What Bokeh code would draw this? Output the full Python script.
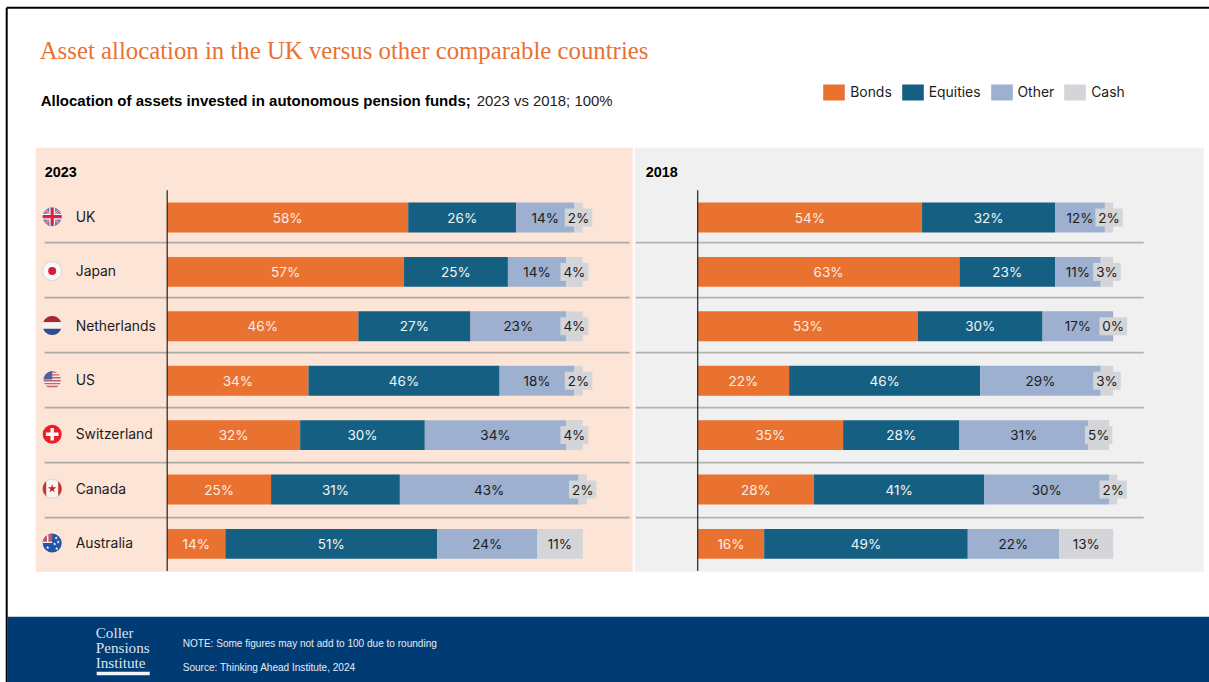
import numpy as np
from bokeh.core.properties import value
from bokeh.embed import file_html
from bokeh.models import ColumnDataSource, Legend, LegendItem, Range1d
from bokeh.plotting import figure
from bokeh.resources import INLINE

countries = ["UK", "Japan", "Netherlands", "US", "Switzerland", "Canada", "Australia"]

bonds_2023 = [58, 57, 46, 34, 32, 25, 14]
equities_2023 = [26, 25, 27, 46, 30, 31, 51]
other_2023 = [14, 14, 23, 18, 34, 43, 24]
cash_2023 = [2, 4, 4, 2, 4, 2, 11]

bonds_2018 = [54, 63, 53, 22, 35, 28, 16]
equities_2018 = [32, 23, 30, 46, 28, 41, 49]
other_2018 = [12, 11, 17, 29, 31, 30, 22]
cash_2018 = [2, 3, 0, 3, 5, 2, 13]

asset_classes = ["Bonds", "Equities", "Other", "Cash"]
asset_colors = ["#EA7231", "#156082", "#9DB0CF", "#D4D5D8"]
label_colors = ["#FBEDE4", "#F2F6F8", "#1C1C1C", "#1C1C1C"]

TITLE = "Asset allocation in the UK versus other comparable countries"
SUB_BOLD = "Allocation of assets invested in autonomous pension funds;"
SUB_PLAIN = "2023 vs 2018; 100%"
NOTE = "NOTE: Some figures may not add to 100 due to rounding"
SOURCE = "Source: Thinking Ahead Institute, 2024"

W, H = 1209, 682
OFF = 0.8  # the frame sits a fraction of a pixel in from the page corner
ROW0, ROW_STEP = 217.8, 54.4
RULE0, RULE_STEP = 243, 55
PX_PER_PCT = 4.155
SANS = "Inter"

p = figure(width=W, height=H, x_range=Range1d(OFF, W + OFF), y_range=Range1d(H + OFF, OFF),
           x_axis_location=None, y_axis_location=None, toolbar_location=None,
           output_backend="svg", min_border=0, outline_line_color=None,
           background_fill_color="white", border_fill_color="white")
p.grid.visible = False


def put_text(x, y, s, size, color="#1C1C1C", font=SANS, style="normal", align="left"):
    p.text([x], [y], text=[s], text_font=value(font), text_font_size=value(f"{size}px"),
           text_color=color, text_font_style=style, text_align=align,
           text_baseline="middle")


# slide frame and footer band
p.quad(left=8, right=W + 2, top=617, bottom=H + 2, fill_color="#003B73", line_color=None)
p.segment(x0=[7, 7], y0=[8, 8], x1=[W + 2, 7], y1=[8, H + 2], line_color="black", line_width=2)

# panel backgrounds
p.quad(left=[36, 635], right=[633, 1204], top=[148, 148], bottom=[572, 572],
       fill_color=["#FCE4D6", "#F0F0F0"], line_color=None)

# row separators
rule_y = [RULE0 + RULE_STEP * i for i in range(6)]
p.segment(x0=[45] * 6, x1=[630] * 6, y0=rule_y, y1=rule_y, line_color="#AFAAA6", line_width=1.8)
p.segment(x0=[636] * 6, x1=[1144] * 6, y0=rule_y, y1=rule_y, line_color="#B2B2B2", line_width=1.8)

# row scale shared by both panels, and one percentage scale per panel
p.extra_y_ranges["rows"] = Range1d((H + OFF - ROW0) / ROW_STEP, (OFF - ROW0) / ROW_STEP)
p.extra_x_ranges["p2023"] = Range1d((OFF - 167.5) / PX_PER_PCT, (W + OFF - 167.5) / PX_PER_PCT)
p.extra_x_ranges["p2018"] = Range1d((OFF - 698) / PX_PER_PCT, (W + OFF - 698) / PX_PER_PCT)


def draw_panel(range_name, bonds, equities, other, cash):
    rows = list(range(len(countries)))
    src = ColumnDataSource(dict(row=rows, Bonds=bonds, Equities=equities, Other=other, Cash=cash))
    bars = p.hbar_stack(asset_classes, y="row", height=0.55, color=asset_colors, line_color=None,
                        source=src, x_range_name=range_name, y_range_name="rows")
    lefts = np.zeros(len(rows))
    for k, series in enumerate((bonds, equities, other, cash)):
        vals = np.array(series, dtype=float)
        extra = {}
        if asset_classes[k] == "Cash":
            extra = dict(background_fill_color=asset_colors[3], padding=(3, 1))
        p.text(x=lefts + vals / 2, y=rows, text=[f"{v}%" for v in series],
               text_font=value(SANS), text_font_size=value("13.5px"), text_color=label_colors[k],
               text_align="center", text_baseline="middle",
               x_range_name=range_name, y_range_name="rows", **extra)
        lefts += vals
    p.segment(x0=[0], x1=[0], y0=[-0.5], y1=[6.5], line_color="#222222", line_width=1.2,
              x_range_name=range_name, y_range_name="rows")
    return bars


bars_2023 = draw_panel("p2023", bonds_2023, equities_2023, other_2023, cash_2023)
draw_panel("p2018", bonds_2018, equities_2018, other_2018, cash_2018)

# country names
p.text(x=[76] * 7, y=[i - 0.012 for i in range(7)], text=countries, text_font=value(SANS),
       text_font_size=value("13.9px"), text_color="#1C1C1C", text_baseline="middle",
       y_range_name="rows")


# round flag pictograms, built from pieces clipped to a disc
def disc_band(cx, cy, r, x0, x1, y0, y1, color):
    ys = np.linspace(max(y0, -r), min(y1, r), 24)
    half = np.sqrt(np.maximum(r * r - ys * ys, 0))
    left = np.clip(-half, x0, x1)
    right = np.clip(half, x0, x1)
    p.patch(np.r_[left, right[::-1]] + cx, np.r_[ys, ys[::-1]] + cy,
            fill_color=color, line_color=None)


def disc(cx, cy, r, color, line=None):
    p.circle([cx], [cy], radius=r, fill_color=color, line_color=line, line_width=1)


def union_jack(cx, cy, r):
    k = 0.68 * r
    p.segment([cx - k, cx - k], [cy - k, cy + k], [cx + k, cx + k], [cy + k, cy - k],
              line_color="#F0C8D0", line_width=2)
    p.segment([cx - k, cx - k], [cy - k, cy + k], [cx + k, cx + k], [cy + k, cy - k],
              line_color="#D8344A", line_width=1)
    bar = r * 0.3
    disc_band(cx, cy, r, -bar, bar, -r, r, "#F4F4F8")
    disc_band(cx, cy, r, -r, r, -bar, bar, "#F4F4F8")
    bar = r * 0.17
    disc_band(cx, cy, r, -bar, bar, -r, r, "#D8243F")
    disc_band(cx, cy, r, -r, r, -bar, bar, "#D8243F")


FX, R = 52.5, 9.5
cy = [ROW0 - 0.8 + ROW_STEP * i for i in range(7)]

disc(FX, cy[0], R, "#5E7FBF")
union_jack(FX, cy[0], R)

disc(FX, cy[1], R, "#FAF8F6", "#D9D5D2")
disc(FX, cy[1], 4, "#CF2037")

disc_band(FX, cy[2], R, -R, R, -R, -3.2, "#AE2437")
disc_band(FX, cy[2], R, -R, R, -3.2, 3.2, "#F7F3F2")
disc_band(FX, cy[2], R, -R, R, 3.2, R, "#2F4C8E")

disc(FX, cy[3], 8.6, "#F3E8E6")
for j in range(6):
    top = -8.6 + j * 2.9
    disc_band(FX, cy[3], 8.6, -8.6, 8.6, top, top + 1.4, "#C4626F")
disc_band(FX, cy[3], 8.6, -8.6, 0, -8.6, -0.5, "#51609C")

disc(FX, cy[4], R, "#EE1C25")
disc_band(FX, cy[4], R, -1.7, 1.7, -6.3, 6.3, "#FFFFFF")
disc_band(FX, cy[4], R, -6.3, 6.3, -1.7, 1.7, "#FFFFFF")

disc(FX, cy[5], R, "#F8F4F1", "#DCD6D2")
disc_band(FX, cy[5], R, -R, -6, -R, R, "#C8352E")
disc_band(FX, cy[5], R, 6, R, -R, R, "#C8352E")
p.scatter([FX], [cy[5]], marker="star", size=9, fill_color="#C8242B", line_color=None)

disc(FX, cy[6], R, "#1F56A8")
disc_band(FX, cy[6], R, -R, 0, -R, 0, "#C0566C")
disc_band(FX, cy[6], R, -R, 0, -1.4, -0.2, "#F4F4F8")
disc_band(FX, cy[6], R, -5.2, -3.8, -R, 0, "#F4F4F8")
p.scatter([FX - 4.5, FX + 4, FX + 6, FX + 2.5, FX + 4.5],
          [cy[6] + 4.5, cy[6] - 5, cy[6] - 1, cy[6] + 1, cy[6] + 5.5],
          marker="star", size=3.6, fill_color="white", line_color=None)

# heading block
put_text(40, 51, TITLE, 24.8, color="#E97132", font="Liberation Serif")
put_text(41, 101, SUB_BOLD, 15, color="#000000", font="Liberation Sans", style="bold")
put_text(477, 101, SUB_PLAIN, 14.9, color="#1C1C1C", font="Liberation Sans")

# panel years
put_text(45, 172.5, "2023", 14.4, color="#000000", font="Liberation Sans", style="bold")
put_text(646, 172.5, "2018", 14.4, color="#000000", font="Liberation Sans", style="bold")

# footer text and wordmark
for y, word in zip((633, 648, 663), ("Coller", "Pensions", "Institute")):
    put_text(96, y, word, 15.2, color="#DDE4EC", font="Liberation Serif")
p.quad(left=97, right=150, top=672, bottom=675.5, fill_color="#F2F5F8", line_color=None)
put_text(183, 643.5, NOTE, 10.05, color="#E6ECF3", font="Liberation Sans")
put_text(183, 667.5, SOURCE, 10.05, color="#E6ECF3", font="Liberation Sans")

legend = Legend(items=[LegendItem(label=name, renderers=[r]) for name, r in zip(asset_classes, bars_2023)],
                orientation="horizontal", location=(820.25, H - 102), padding=0, margin=0, spacing=7,
                glyph_width=27, glyph_height=20, label_standoff=3, border_line_color=None,
                background_fill_alpha=0, label_text_font=SANS, label_text_font_size="13.9px",
                label_text_color="#1C1C1C", label_height=20)
p.add_layout(legend, "center")

open("out.html", "w").write(file_html(p, INLINE))
